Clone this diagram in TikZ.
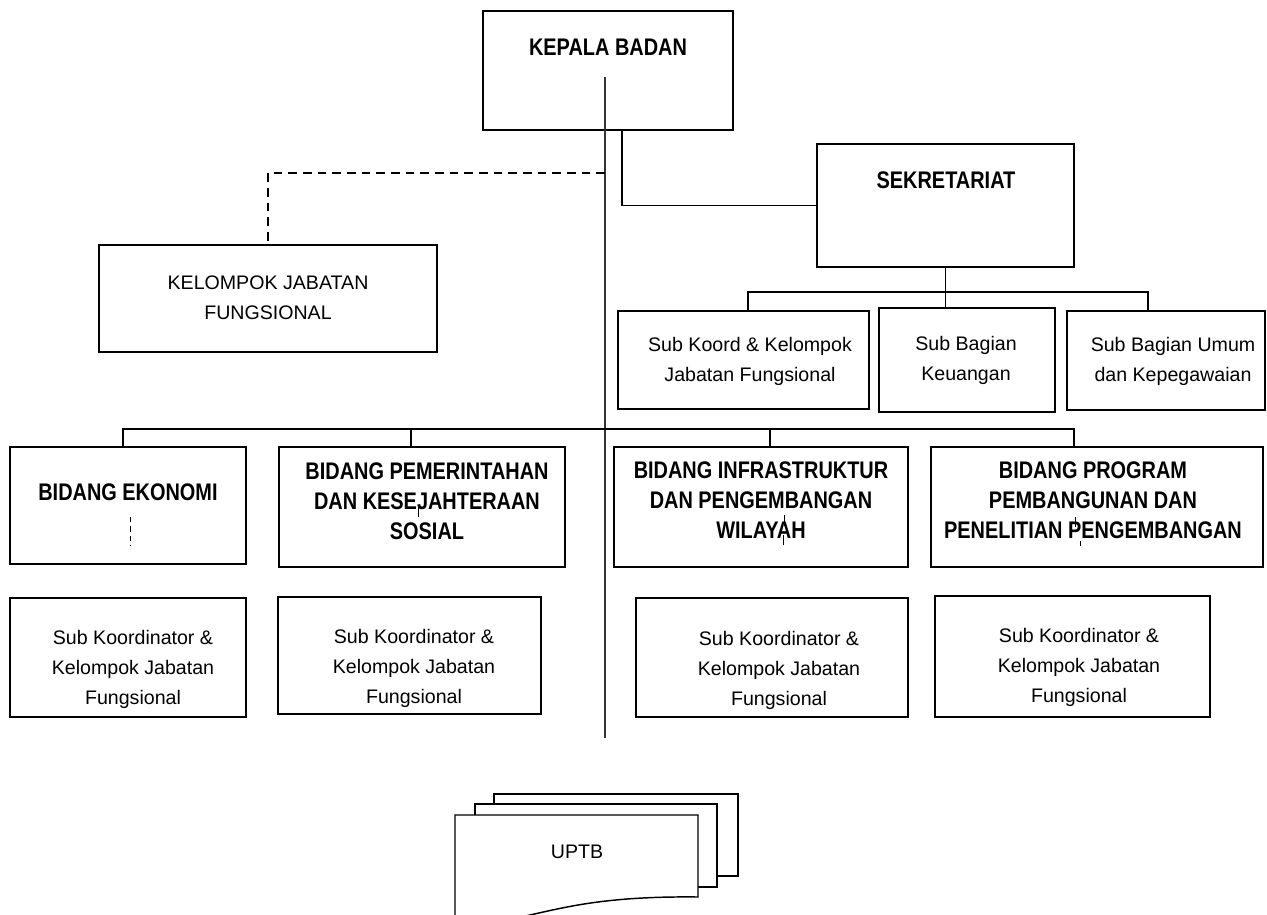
\documentclass[tikz,border=0pt]{standalone}
\usepackage{fontspec}
\setmainfont{Liberation Sans}
\newfontfamily\narfont[FakeStretch=0.83]{Liberation Sans}
\usetikzlibrary{fit}
\begin{document}
\begin{tikzpicture}[x=0.75pt,y=-0.75pt,
  box/.style={draw, line width=1.15pt, inner sep=0pt},
  conn/.style={line width=1.1pt},
  mainline/.style={line width=0.8pt, black!80},
  dashconn/.style={line width=1.1pt, dash pattern=on 6.5pt off 4.5pt},
  tick/.style={line width=0.7pt},
  boldtxt/.style={font=\narfont\bfseries\fontsize{18}{22.5}\selectfont, align=center, inner sep=0pt},
  regtxt/.style={font=\fontsize{14.7}{22.5}\selectfont, align=center, inner sep=0pt},
  sheet/.style={draw, line width=1.1pt, fill=white}]
\useasboundingbox (0,0) rectangle (1267,914);

% boxes
\node[box, fit={(483,11) (733,130)}] (kepala) {};
\node[box, fit={(817,144) (1074,267)}] (sekre) {};
\node[box, fit={(99,245) (437,352)}] (kelompok) {};
\node[box, fit={(618,311) (869,409)}] (skoord) {};
\node[box, fit={(879,308) (1055,412)}] (keu) {};
\node[box, fit={(1067,311) (1265,410)}] (umum) {};
\node[box, fit={(10,447) (246,564)}] (ekonomi) {};
\node[box, fit={(279,447) (565,567)}] (pem) {};
\node[box, fit={(614,447) (908,567)}] (infra) {};
\node[box, fit={(931,447) (1263,567)}] (program) {};
\node[box, fit={(10,598) (246,717)}] (sub1) {};
\node[box, fit={(278,597) (541,714)}] (sub2) {};
\node[box, fit={(636,598) (908,717)}] (sub3) {};
\node[box, fit={(935,596) (1210,717)}] (sub4) {};

% texts
\node[boldtxt] (tkepala) at (608,47) {KEPALA BADAN};
\node[boldtxt] (tsekre) at (946,180) {SEKRETARIAT};
\node[regtxt] (tkelompok) at (268,298) {KELOMPOK JABATAN\\FUNGSIONAL};
\node[regtxt] (tskoord) at (750,361) {Sub Koord \& Kelompok\\Jabatan Fungsional};
\node[regtxt] (tkeu) at (966,360) {Sub Bagian\\Keuangan};
\node[regtxt] (tumum) at (1173,361) {Sub Bagian Umum\\dan Kepegawaian};
\node[boldtxt] (tekonomi) at (128,492) {BIDANG EKONOMI};
\node[boldtxt] (tpem) at (427,501) {BIDANG PEMERINTAHAN\\DAN KESEJAHTERAAN\\SOSIAL};
\node[boldtxt] (tinfra) at (761,500) {BIDANG INFRASTRUKTUR\\DAN PENGEMBANGAN\\WILAYAH};
\node[boldtxt] (tprogram) at (1093,500) {BIDANG PROGRAM\\PEMBANGUNAN DAN\\PENELITIAN PENGEMBANGAN};
\node[regtxt] (tsub1) at (133,669) {Sub Koordinator \&\\Kelompok Jabatan\\Fungsional};
\node[regtxt] (tsub2) at (414,668) {Sub Koordinator \&\\Kelompok Jabatan\\Fungsional};
\node[regtxt] (tsub3) at (779,670) {Sub Koordinator \&\\Kelompok Jabatan\\Fungsional};
\node[regtxt] (tsub4) at (1079,667) {Sub Koordinator \&\\Kelompok Jabatan\\Fungsional};

% coordinates for connectors
\coordinate (mtop) at (605,77);
\coordinate (mbot) at (605,738);
\coordinate (kx) at (622,130);
\coordinate (dstart) at (605,173);
\coordinate (s1) at (748,292);
\coordinate (s3) at (1148,292);
\coordinate (b1) at (123,429);
\coordinate (b2) at (411,429);
\coordinate (b3) at (770,429);
\coordinate (b4) at (1074,429);

% connectors
\draw[mainline] (mtop) -- (mbot);
\draw[conn] (kepala.south -| kx) |- (sekre.west);
\draw[dashconn] (dstart) -| (kelompok.north);
\draw[conn] (sekre.south) -- (sekre.south |- keu.north);
\draw[conn] (skoord.north -| s1) |- (s3) -- (umum.north -| s3);
\draw[conn] (ekonomi.north -| b1) |- (b4) -- (program.north -| b4);
\draw[conn] (b2) -- (pem.north -| b2);
\draw[conn] (b3) -- (infra.north -| b3);

% small marks inside bidang boxes
\draw[tick, dash pattern=on 4pt off 3pt] (130,517) -- (130,546);
\draw[tick] (418,507) -- (418,517);
\draw[tick] (784,515) -- (784,526);
\draw[tick] (783,535) -- (783,545);
\draw[tick] (1075,517) -- (1075,527);
\draw[tick] (1080,541) -- (1080,546);

% UPTB multi-document
\draw[sheet] (494,794) rectangle (738,876);
\draw[sheet] (475,804) rectangle (717,887);
\draw[sheet] (455,918) -- (455,815) -- (698,815) -- (698,897)
  .. controls (610,896) and (570,906) .. (530,915)
  .. controls (500,922) and (475,922) .. (455,918);
\node[regtxt] (uptb) at (577,852) {UPTB};
\end{tikzpicture}
\end{document}
